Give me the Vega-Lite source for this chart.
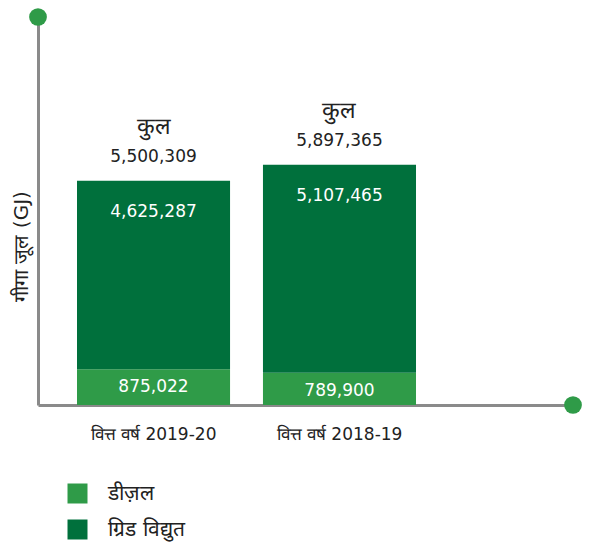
{
  "$schema": "https://vega.github.io/schema/vega-lite/v6.json",
  "width": 535,
  "height": 388,
  "autosize": "none",
  "padding": {"left": 38, "top": 17, "right": 17, "bottom": 142},
  "config": {"view": {"stroke": null}, "font": "DejaVu Sans"},
  "datasets": {
    "energy": [
      {"year": "वित्त वर्ष 2019-20", "type": "डीज़ल", "value": 875022},
      {"year": "वित्त वर्ष 2019-20", "type": "ग्रिड विद्युत", "value": 4625287},
      {"year": "वित्त वर्ष 2018-19", "type": "डीज़ल", "value": 789900},
      {"year": "वित्त वर्ष 2018-19", "type": "ग्रिड विद्युत", "value": 5107465}
    ],
    "ends": [
      {"px": 0, "value": 9520000},
      {"px": 1, "value": 0}
    ]
  },
  "layer": [
    {
      "data": {"name": "energy"},
      "encoding": {
        "x": {
          "field": "year",
          "type": "nominal",
          "sort": ["वित्त वर्ष 2019-20", "वित्त वर्ष 2018-19"],
          "scale": {"paddingInner": 0.177, "paddingOuter": 0.527, "align": 0.199},
          "axis": {"title": null, "domainColor": "#8a8a8a", "domainWidth": 3, "ticks": false, "labelFontSize": 17, "labelColor": "#222222", "labelPadding": 21, "labelAngle": 0}
        }
      },
      "layer": [
        {
          "mark": {"type": "bar"},
          "encoding": {
            "y": {
              "field": "value",
              "type": "quantitative",
              "stack": "zero",
              "scale": {"domain": [0, 9520000], "nice": false},
              "axis": {"title": "गीगा जूल (GJ)", "labels": false, "ticks": false, "grid": false, "domainColor": "#8a8a8a", "domainWidth": 3, "titleFontSize": 20, "titleFontWeight": "normal", "titleColor": "#222222", "titleAngle": -90, "titleBaseline": "middle", "titleX": -17, "titleY": 229}
            },
            "color": {
              "field": "type",
              "type": "nominal",
              "scale": {"domain": ["डीज़ल", "ग्रिड विद्युत"], "range": ["#2f9b48", "#00703c"]},
              "legend": {"orient": "none", "legendX": 29, "legendY": 466, "title": null, "symbolType": "square", "symbolSize": 400, "symbolStrokeWidth": 0, "labelFontSize": 21, "labelColor": "#222222", "labelOffset": 20, "rowPadding": 14, "padding": 0}
            },
            "order": {"field": "type", "sort": "descending"}
          }
        },
        {
          "transform": [{"aggregate": [{"op": "sum", "field": "value", "as": "total"}], "groupby": ["year"]}],
          "mark": {"type": "text", "dy": -54, "fontSize": 23, "color": "#222222"},
          "encoding": {
            "y": {"field": "total", "type": "quantitative"},
            "text": {"value": "कुल"}
          }
        },
        {
          "transform": [{"aggregate": [{"op": "sum", "field": "value", "as": "total"}], "groupby": ["year"]}],
          "mark": {"type": "text", "dy": -24, "fontSize": 17, "color": "#222222"},
          "encoding": {
            "y": {"field": "total", "type": "quantitative"},
            "text": {"field": "total", "type": "quantitative", "format": ","}
          }
        },
        {
          "transform": [
            {"joinaggregate": [{"op": "sum", "field": "value", "as": "total"}], "groupby": ["year"]},
            {"filter": "datum.type === 'ग्रिड विद्युत'"}
          ],
          "mark": {"type": "text", "dy": 31, "fontSize": 17, "color": "#ffffff"},
          "encoding": {
            "y": {"field": "total", "type": "quantitative"},
            "text": {"field": "value", "type": "quantitative", "format": ","}
          }
        },
        {
          "transform": [{"filter": "datum.type === 'डीज़ल'"}],
          "mark": {"type": "text", "dy": 18, "fontSize": 17, "color": "#ffffff"},
          "encoding": {
            "y": {"field": "value", "type": "quantitative"},
            "text": {"field": "value", "type": "quantitative", "format": ","}
          }
        }
      ]
    },
    {
      "data": {"name": "ends"},
      "mark": {"type": "point", "filled": true, "size": 314, "color": "#2f9b48", "opacity": 1, "clip": false},
      "encoding": {
        "x": {"field": "px", "type": "quantitative", "scale": {"domain": [0, 1], "nice": false}, "axis": null},
        "y": {"field": "value", "type": "quantitative"}
      }
    }
  ],
  "resolve": {"scale": {"x": "independent"}}
}
